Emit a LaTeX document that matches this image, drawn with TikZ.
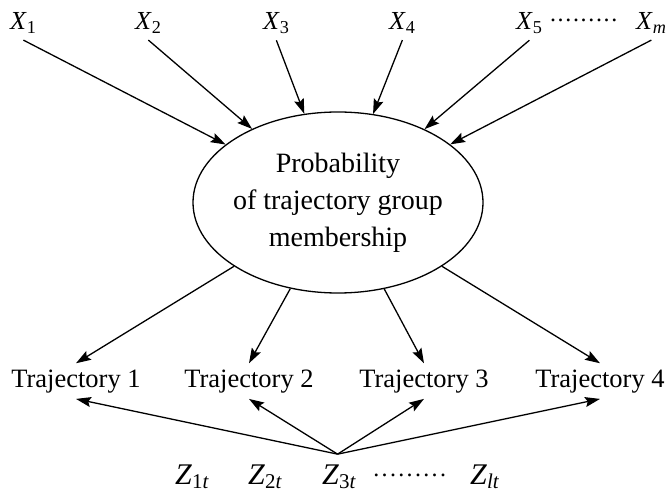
\documentclass[tikz,border=0pt]{standalone}
\usepackage{fix-cm}
\usepackage{fontspec}
\setmainfont{Liberation Serif}
\usetikzlibrary{arrows.meta,shapes.geometric}
\newcommand{\ninedots}[1]{\makebox[#1]{\xleaders\hbox to 0.1111\dimexpr#1\relax{\hss\raisebox{8.5pt}{.}\hss}\hfill}}
\newcommand{\var}[2]{\textit{#1}\textsubscript{#2}}
\tikzset{
  arr/.style={line width=1.3pt, -{Stealth[length=15pt,width=10pt,inset=2.5pt]}},
  xlab/.style={inner xsep=0pt, inner ysep=6pt, anchor=base west, font=\fontsize{26}{30}\selectfont},
  zlab/.style={inner xsep=0pt, inner ysep=10pt, anchor=base west, font=\fontsize{30}{34}\selectfont},
  traj/.style={inner xsep=0pt, inner ysep=6pt, anchor=base, font=\fontsize{26.5}{30}\selectfont},
  dotrow/.style={inner sep=0pt, anchor=base west, font=\fontsize{24}{28}\selectfont},
  central/.style={draw, line width=1.3pt, ellipse, minimum width=290pt, minimum height=181pt,
    inner sep=-50pt, align=center, font=\fontsize{28}{37}\selectfont}
}
\begin{document}
\begin{tikzpicture}[x=1pt,y=-1pt]
\useasboundingbox (0,0) rectangle (672,494);
% top labels
\node[xlab] (X1) at (10,30) {\var{X}{1}};
\node[xlab] (X2) at (135,30) {\var{X}{2}};
\node[xlab] (X3) at (263,30) {\var{X}{3}};
\node[xlab] (X4) at (389,30) {\var{X}{4}};
\node[xlab] (X5) at (516,30) {\var{X}{5}};
\node[dotrow] (xd) at (549,30) {\ninedots{69pt}};
\node[xlab] (Xm) at (636,30) {\var{X}{\itshape m}};
% central ellipse
\node[central] (ell) at (338,202.5) {Probability\\of trajectory group\\membership};
% trajectories
\node[traj] (T1) at (76,387) {Trajectory 1};
\node[traj] (T2) at (249,387) {Trajectory 2};
\node[traj] (T3) at (424,387) {Trajectory 3};
\node[traj] (T4) at (600,387) {Trajectory 4};
% Z labels
\node[zlab] (Z1) at (175,484) {\var{Z}{1\itshape t}};
\node[zlab] (Z2) at (248,484) {\var{Z}{2\itshape t}};
\node[zlab] (Z3) at (322,484) {\var{Z}{3\itshape t}};
\node[dotrow] (zd) at (372,485) {\ninedots{75pt}};
\node[zlab] (Zl) at (470,484) {\var{Z}{\itshape lt}};
% arrows into ellipse
\foreach \n in {X1,X2,X3,X4,X5,Xm}
  \draw[arr] (\n.south) -- (ell);
% arrows out of ellipse
\foreach \n in {T1,T2,T3,T4}
  \draw[arr] (ell) -- (\n.north);
% arrows from Z3t
\foreach \n in {T1,T2,T3,T4}
  \draw[arr] ([xshift=-1.5pt]Z3.north) -- (\n.south);
\end{tikzpicture}
\end{document}
